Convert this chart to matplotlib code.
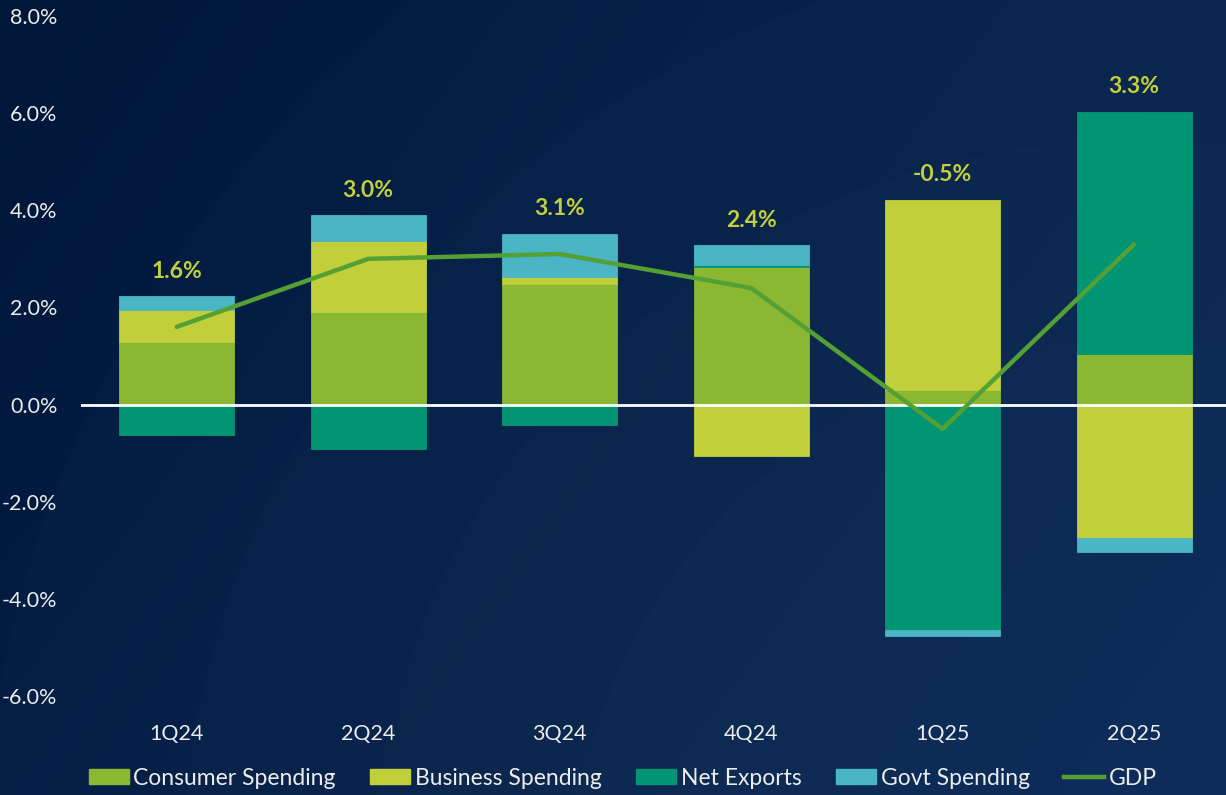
import numpy as np
import matplotlib
matplotlib.use("Agg")
import matplotlib.pyplot as plt
from matplotlib.patches import Circle, Patch
from matplotlib.lines import Line2D

plt.rcParams['font.family'] = ['Lato', 'DejaVu Sans']

# ---- data (contribution to real GDP growth, % pts) ----
quarters = ['1Q24', '2Q24', '3Q24', '4Q24', '1Q25', '2Q25']
consumer = [1.29, 1.90, 2.49, 2.83, 0.29, 1.05]
business = [0.65, 1.47, 0.14, -1.05, 3.93, -2.74]
net_exports = [-0.62, -0.92, -0.43, 0.04, -4.65, 4.98]
govt = [0.29, 0.53, 0.89, 0.41, -0.12, -0.29]
gdp = [1.6, 3.0, 3.1, 2.4, -0.5, 3.3]

series = [
    ('Consumer Spending', consumer, '#8ab833'),
    ('Business Spending', business, '#c1cf3a'),
    ('Net Exports', net_exports, '#029574'),
    ('Govt Spending', govt, '#4ab5c4'),
]
line_color = '#55a035'
label_color = '#c3cf3b'
text_color = '#ececec'

fig = plt.figure(figsize=(12.26, 7.95), dpi=100)

# background: navy gradient with faint concentric rings
bg = fig.add_axes([0, 0, 1, 1], zorder=-10)
bg.set_xlim(0, 1226)
bg.set_ylim(795, 0)
bg.axis('off')
gx = np.linspace(0, 1, 300)
gy = np.linspace(0, 1, 200)
GX, GY = np.meshgrid(gx, gy)
c0 = np.array([0x00, 0x17, 0x39]) / 255
c1 = np.array([0x0d, 0x27, 0x55]) / 255
t = np.clip(0.75 * GX + 0.35 * GY, 0, 1)[..., None]
img = c0 * (1 - t) + c1 * t
bg.imshow(img, extent=[0, 1226, 795, 0], aspect='auto')
for r in [1150, 950, 760, 560]:
    bg.add_patch(Circle((1130, 900), r, facecolor='#1d4a6a', alpha=0.06,
                        edgecolor='none'))

ax = fig.add_axes([81 / 1226, 99 / 795, 1 - 81 / 1226, 680 / 795])
ax.set_facecolor('none')

x = np.arange(len(quarters))
width = 0.6
pos_base = np.zeros(len(quarters))
neg_base = np.zeros(len(quarters))
for name, vals, col in series:
    vals = np.array(vals)
    base = np.where(vals >= 0, pos_base, neg_base)
    ax.bar(x, vals, width, bottom=base, color=col, edgecolor=col,
           linewidth=0.6, zorder=2)
    pos_base = pos_base + np.where(vals >= 0, vals, 0)
    neg_base = neg_base + np.where(vals < 0, vals, 0)

ax.axhline(0, color='white', lw=2, zorder=3)
ax.plot(x, gdp, color=line_color, lw=3.2, zorder=4, solid_capstyle='round')

for xi, top, g in zip(x, pos_base, gdp):
    ax.annotate(f'{g:.1f}%', (xi, top), xytext=(0, 18),
                textcoords='offset points', ha='center', va='center',
                color=label_color, fontsize=16.5, fontweight='bold')

ax.set_xlim(-0.5, 5.48)
ax.set_ylim(-6, 8)
ax.set_yticks(np.arange(-6, 9, 2))
ax.set_yticklabels([f'{v:.1f}%' for v in np.arange(-6, 9, 2)])
ax.set_xticks(x)
ax.set_xticklabels(quarters)
ax.tick_params(length=0, colors=text_color, labelsize=15.5)
ax.tick_params(axis='y', pad=17)
ax.tick_params(axis='x', pad=20)
for s in ax.spines.values():
    s.set_visible(False)

handles = [Patch(facecolor=c, edgecolor=c, label=n) for n, _, c in series]
handles.append(Line2D([0], [0], color=line_color, lw=3.2, label='GDP'))
fig.legend(handles=handles, loc='center', bbox_to_anchor=(0.508, 0.021),
           ncol=5, frameon=False, fontsize=16.5, labelcolor=text_color,
           handlelength=1.75, handleheight=0.6, handletextpad=0.2,
           columnspacing=1.5)

fig.savefig('out.png', dpi=100, facecolor=fig.get_facecolor())
